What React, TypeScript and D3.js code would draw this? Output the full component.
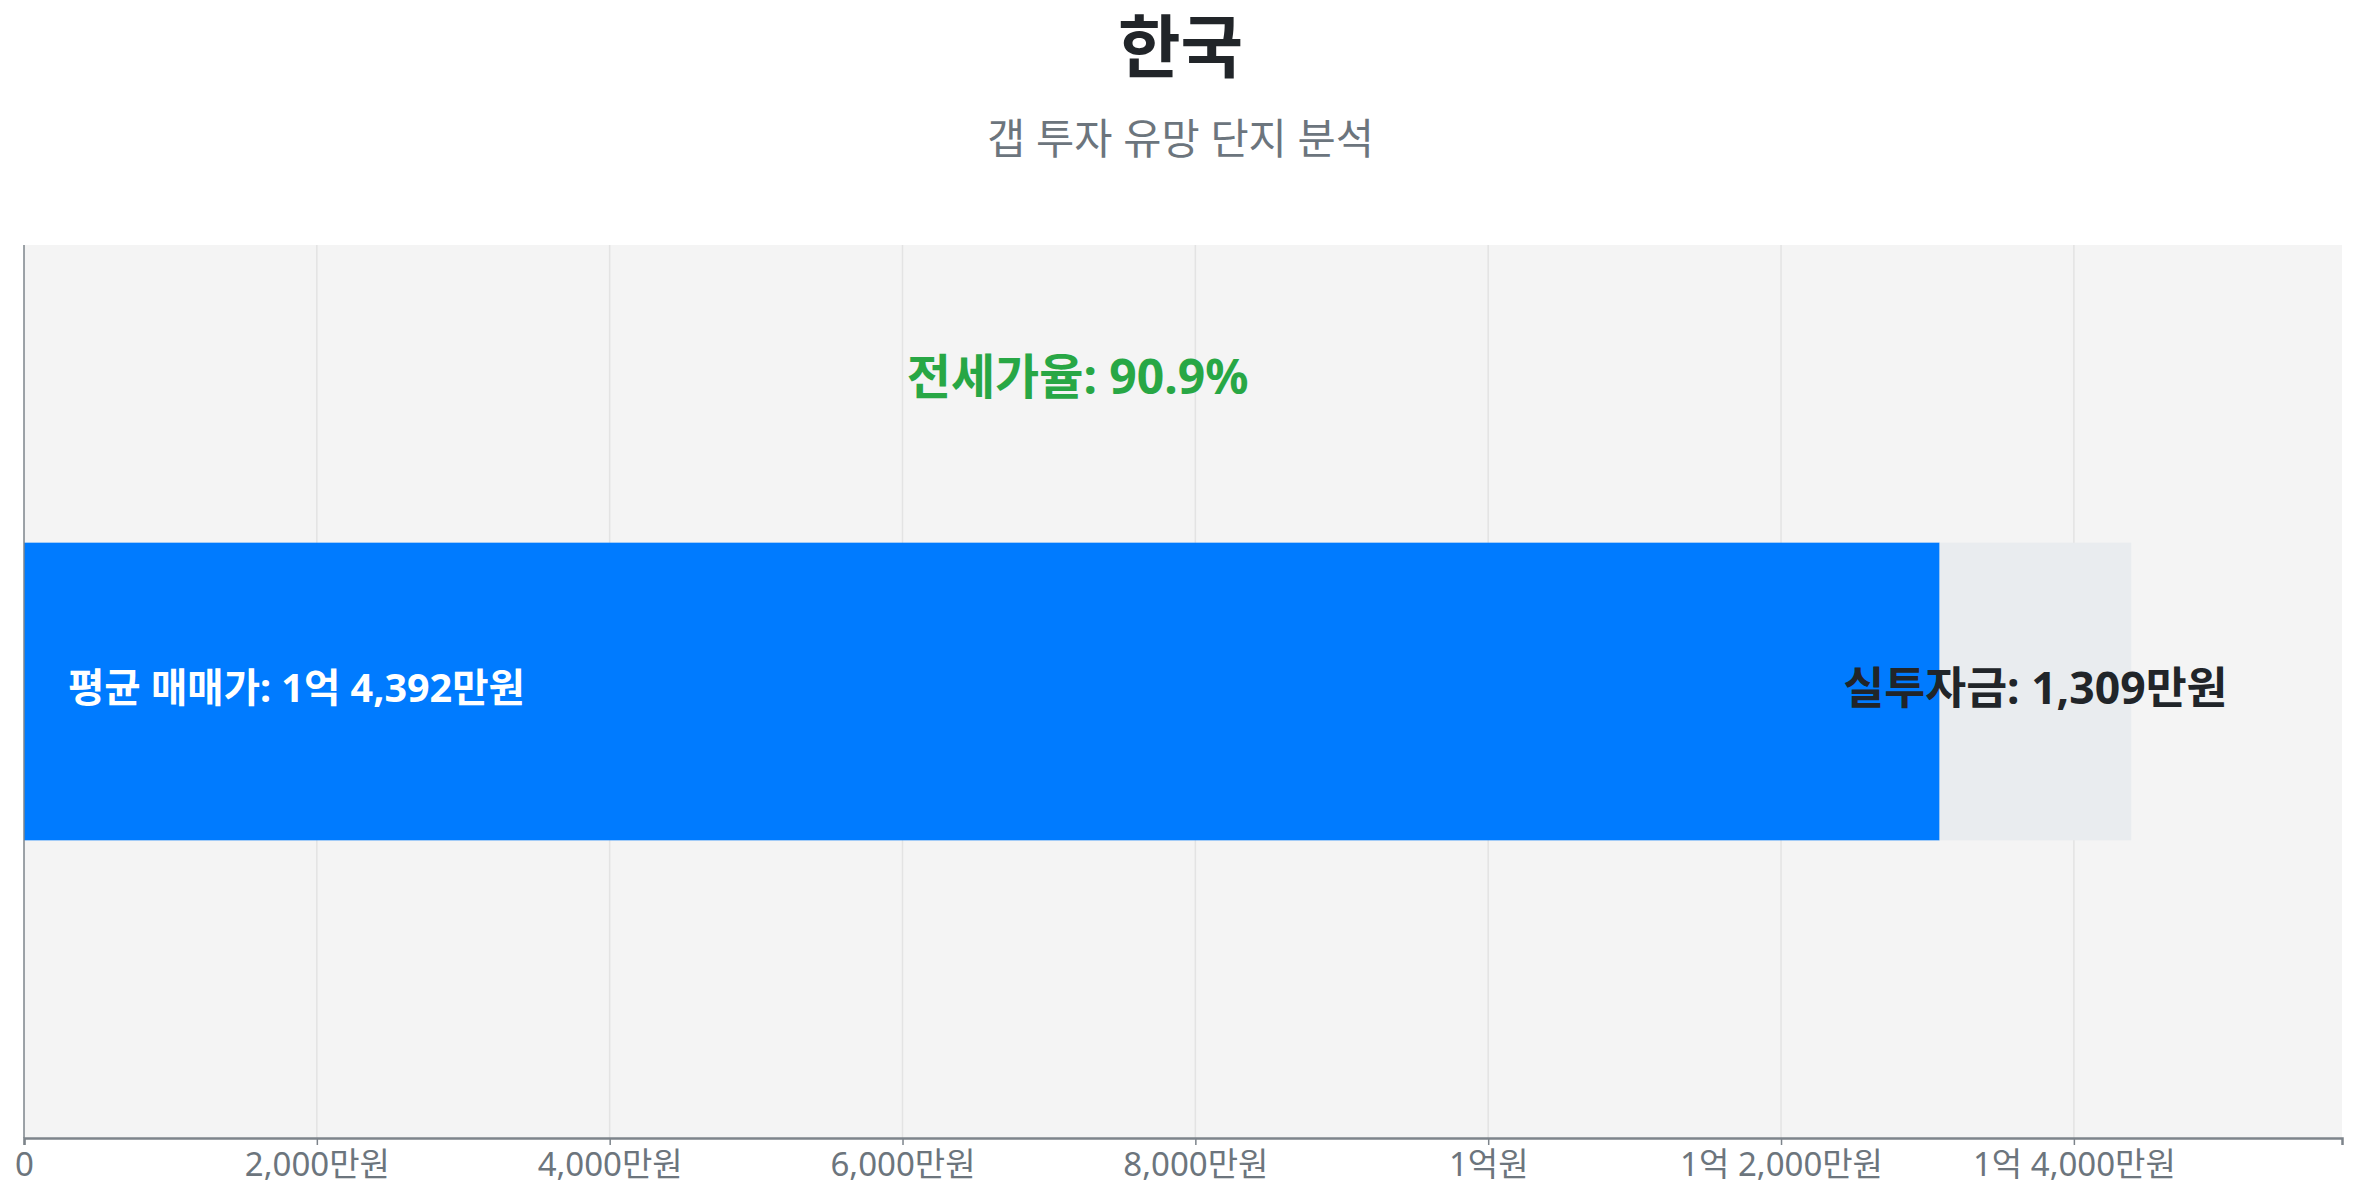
import React, {useEffect, useRef} from 'react';
import * as d3 from 'd3';

// Chart data (values in 만원)
const regions = ['한국'];
const avgPrices = [14392];
const gapAmounts = [1309];
const jeonseRatios = [90.9];
const tickValues = [0, 2000, 4000, 6000, 8000, 10000, 12000, 14000];

const chartTitle = '한국';
const chartSubtitle = '갭 투자 유망 단지 분석';

const FONT = '"Noto Sans", "Noto Sans CJK KR", sans-serif';

/**
 * Formats a 만원 amount as Korean currency text (e.g. 1억 4,392만원).
 */
const formatWon = (v: number): string => {
  if (v === 0) return '0';
  const eok = Math.floor(v / 10000);
  const rest = v % 10000;
  if (eok > 0 && rest === 0) return `${eok}억원`;
  const restText = `${d3.format(',')(rest)}만원`;
  return eok > 0 ? `${eok}억 ${restText}` : restText;
};

const App: React.FC = () => {
  const svgRef = useRef<SVGSVGElement>(null);

  useEffect(() => {
    if (!svgRef.current) return;
    const width = 2341;
    const height = 1184;

    const root = d3.select(svgRef.current);
    root.selectAll('*').remove();
    root.attr('width', width).attr('height', height);

    // Titles
    root
      .append('text')
      .attr('x', width / 2 + 2)
      .attr('y', 64)
      .attr('text-anchor', 'middle')
      .attr('font-family', FONT)
      .attr('font-weight', 700)
      .attr('font-size', 68)
      .attr('fill', '#212529')
      .text(chartTitle);

    root
      .append('text')
      .attr('x', width / 2 + 2)
      .attr('y', 146)
      .attr('text-anchor', 'middle')
      .attr('font-family', FONT)
      .attr('font-size', 41.5)
      .attr('fill', '#6c757d')
      .text(chartSubtitle);

    const margin = {top: 237, right: 7, bottom: 54, left: 16};
    const w = width - margin.left - margin.right;
    const h = height - margin.top - margin.bottom;

    const svg = root
      .append('g')
      .attr('transform', `translate(${margin.left},${margin.top})`);

    const maxPrice = d3.max(avgPrices) || 0;
    const x = d3.scaleLinear().domain([0, maxPrice * 1.1]).range([0, w]);
    const y = d3.scaleBand().domain(regions).range([0, h]).padding(0.5);

    // Plot background
    svg
      .append('rect')
      .attr('width', w)
      .attr('height', h)
      .attr('fill', '#f4f4f4');

    // Grid lines
    svg
      .append('g')
      .selectAll('line')
      .data(tickValues.slice(1))
      .enter()
      .append('line')
      .attr('x1', (d) => x(d))
      .attr('x2', (d) => x(d))
      .attr('y1', 0)
      .attr('y2', h)
      .attr('stroke', '#e3e3e3')
      .attr('stroke-width', 1.5);

    const rows = regions.map((r, i) => ({
      region: r,
      price: avgPrices[i],
      gap: gapAmounts[i],
      jeonse: avgPrices[i] - gapAmounts[i],
      ratio: jeonseRatios[i],
    }));

    // Jeonse part (blue)
    svg
      .selectAll('.bar-jeonse')
      .data(rows)
      .enter()
      .append('rect')
      .attr('class', 'bar-jeonse')
      .attr('x', x(0))
      .attr('y', (d) => y(d.region) || 0)
      .attr('width', (d) => x(d.jeonse) - x(0))
      .attr('height', y.bandwidth())
      .attr('fill', '#007bff');

    // Gap part (grey)
    svg
      .selectAll('.bar-gap')
      .data(rows)
      .enter()
      .append('rect')
      .attr('class', 'bar-gap')
      .attr('x', (d) => x(d.jeonse))
      .attr('y', (d) => y(d.region) || 0)
      .attr('width', (d) => x(d.price) - x(d.jeonse))
      .attr('height', y.bandwidth())
      .attr('fill', '#e9ecef');

    // Labels
    rows.forEach((d) => {
      const top = y(d.region) || 0;
      const mid = top + y.bandwidth() / 2 - 5;

      svg
        .append('text')
        .attr('x', x(d.price / 2))
        .attr('y', top / 2)
        .attr('text-anchor', 'middle')
        .attr('font-family', FONT)
        .attr('font-weight', 700)
        .attr('font-size', 48)
        .attr('fill', '#28a745')
        .text(`전세가율: ${d.ratio}%`);

      svg
        .append('text')
        .attr('x', x(0) + 44)
        .attr('y', mid)
        .attr('dominant-baseline', 'central')
        .attr('font-family', FONT)
        .attr('font-weight', 700)
        .attr('font-size', 39.5)
        .attr('fill', '#ffffff')
        .text(`평균 매매가: ${formatWon(d.price)}`);

      svg
        .append('text')
        .attr('x', (x(d.jeonse) + x(d.price)) / 2)
        .attr('y', mid)
        .attr('text-anchor', 'middle')
        .attr('dominant-baseline', 'central')
        .attr('font-family', FONT)
        .attr('font-weight', 700)
        .attr('font-size', 44.5)
        .attr('fill', '#212529')
        .text(`실투자금: ${formatWon(d.gap)}`);
    });

    // Axes
    const xAxis = svg
      .append('g')
      .attr('transform', `translate(0,${h})`)
      .call(
        d3
          .axisBottom(x)
          .tickValues(tickValues)
          .tickFormat((d) => formatWon(d as number))
          .tickSize(7)
          .tickPadding(8),
      );
    xAxis.select('.domain').attr('stroke', '#7d848b').attr('stroke-width', 2.5);
    xAxis.selectAll('.tick line').attr('stroke', '#7d848b').attr('stroke-width', 1.5);
    xAxis
      .selectAll('.tick text')
      .attr('font-family', FONT)
      .attr('font-size', 33)
      .attr('fill', '#6c757d');

    svg
      .append('line')
      .attr('x1', 0)
      .attr('x2', 0)
      .attr('y1', 0)
      .attr('y2', h)
      .attr('stroke', '#7d848b')
      .attr('stroke-width', 1.5);
  }, []);

  return (
    <div>
      <svg ref={svgRef} style={{display: 'block'}} />
    </div>
  );
};

export default App;
